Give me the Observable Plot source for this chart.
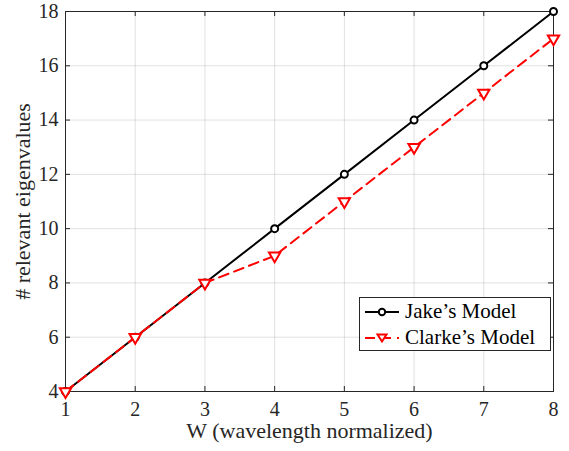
<!DOCTYPE html>
<html><head><meta charset="utf-8">
<script src="https://cdn.jsdelivr.net/npm/d3@7"></script>
<script src="https://cdn.jsdelivr.net/npm/@observablehq/plot@0.6"></script>
<style>
body{margin:0;background:#fff;}
#wrap{position:relative;width:569px;height:451px;font-family:"Liberation Serif",serif;}
#legend{position:absolute;left:359px;top:297px;width:192px;height:54px;border:1px solid #262626;background:#fff;box-sizing:border-box;font-size:21px;color:#000;}
#legend .row{position:absolute;left:0;height:27px;display:flex;align-items:center;}
#legend svg{margin-left:5px;margin-right:6px;}
</style></head>
<body><div id="wrap"></div>
<script>
const W = [1, 2, 3, 4, 5, 6, 7, 8];
const jake = [4, 6, 8, 10, 12, 14, 16, 18];
const clarke = [4, 6, 8, 9, 11, 13, 15, 17];
const xTicks = [1, 2, 3, 4, 5, 6, 7, 8];
const yTicks = [4, 6, 8, 10, 12, 14, 16, 18];
const seriesNames = ["Jake\u2019s Model", "Clarke\u2019s Model"];
const xLabel = "W (wavelength normalized)";
const yLabel = "# relevant eigenvalues";

const jakeData = W.map((w, i) => ({w, v: jake[i]}));
const clarkeData = W.map((w, i) => ({w, v: clarke[i]}));

const width = 569, height = 451;
const mL = 65, mR = 16, mT = 11, mB = 60;
const fw = width - mL - mR, fh = height - mT - mB;
const tk = 5;
const axisColor = "#262626";

const chart = Plot.plot({
  width, height,
  marginLeft: mL, marginRight: mR, marginTop: mT, marginBottom: mB,
  style: {fontFamily: "Liberation Serif, serif", background: "#fff"},
  x: {domain: [1, 8]},
  y: {domain: [4, 18]},
  marks: [
    Plot.gridX(xTicks, {stroke: "#000", strokeOpacity: 0.12}),
    Plot.gridY(yTicks, {stroke: "#000", strokeOpacity: 0.12}),
    Plot.tickX(xTicks, {x: d => d, stroke: axisColor, insetTop: fh - tk}),
    Plot.tickX(xTicks, {x: d => d, stroke: axisColor, insetBottom: fh - tk}),
    Plot.tickY(yTicks, {y: d => d, stroke: axisColor, insetRight: fw - tk}),
    Plot.tickY(yTicks, {y: d => d, stroke: axisColor, insetLeft: fw - tk}),
    Plot.frame({stroke: axisColor, strokeWidth: 1}),
    Plot.axisX(xTicks, {tickSize: 0, tickPadding: 10, fontSize: 20, color: axisColor, label: null}),
    Plot.axisY(yTicks, {tickSize: 0, tickPadding: 7, fontSize: 20, color: axisColor, label: null}),
    Plot.text([xLabel], {frameAnchor: "bottom", dy: 46, fontSize: 22, fill: axisColor, text: d => d}),
    Plot.text([yLabel], {frameAnchor: "left", textAnchor: "middle", dx: -43, rotate: -90, fontSize: 22, fill: axisColor, text: d => d}),
    Plot.line(jakeData, {x: "w", y: "v", stroke: "#000", strokeWidth: 2}),
    Plot.dot(jakeData, {x: "w", y: "v", r: 3.5, stroke: "#000", strokeWidth: 2, fill: "#fff"}),
    Plot.line(clarkeData, {x: "w", y: "v", stroke: "#ff0000", strokeWidth: 2, strokeDasharray: "10,6"}),
    Plot.dot(clarkeData, {x: "w", y: "v", symbol: "triangle", rotate: 180, r: 4.2, stroke: "#ff0000", strokeWidth: 2, fill: "#fff"})
  ]
});
const wrap = document.getElementById("wrap");
wrap.appendChild(chart);

const leg = document.createElement("div");
leg.id = "legend";
leg.innerHTML = `
<div class="row" style="top:0px">
  <svg width="34" height="14"><line x1="0" y1="7" x2="34" y2="7" stroke="#000" stroke-width="2"/><circle cx="17" cy="7" r="3.2" fill="#fff" stroke="#000" stroke-width="2"/></svg>
  <span>${seriesNames[0]}</span></div>
<div class="row" style="top:26px">
  <svg width="34" height="14"><line x1="0" y1="7" x2="34" y2="7" stroke="#ff0000" stroke-width="2" stroke-dasharray="10,6"/><path d="M12.5,3.5 L21.5,3.5 L17,10.5 Z" fill="#fff" stroke="#ff0000" stroke-width="2"/></svg>
  <span>${seriesNames[1]}</span></div>`;
wrap.appendChild(leg);
</script></body></html>
